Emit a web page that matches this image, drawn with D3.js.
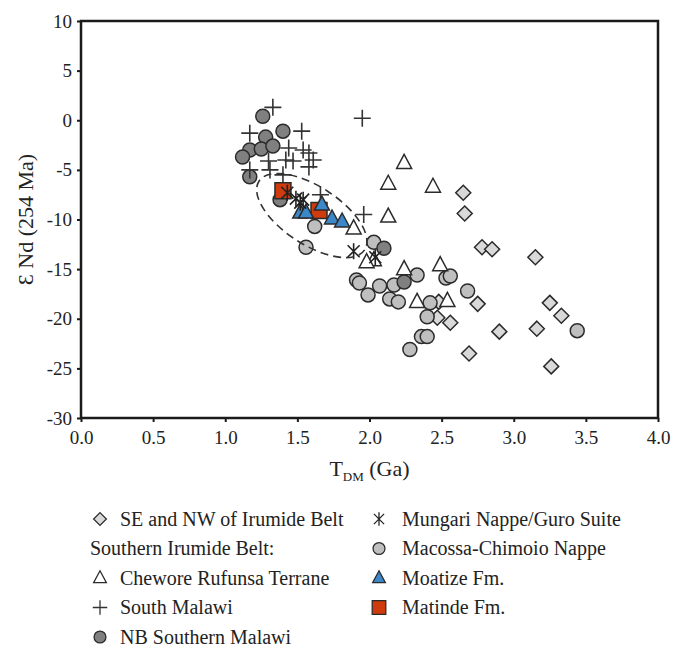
<!DOCTYPE html>
<html>
<head>
<meta charset="utf-8">
<script src="https://cdn.jsdelivr.net/npm/d3@7"></script>
<style>
body { margin: 0; background: #fff; }
svg text { font-family: "Liberation Serif", "DejaVu Serif", serif; fill: #222; }
</style>
</head>
<body>
<svg id="chart" width="674" height="648"></svg>
<script>
// values, [T_DM (Ga), eps Nd]
var seNwIrumide = [[2.65,-7.3],[2.66,-9.4],[2.78,-12.8],[2.85,-13.0],[3.15,-13.8],[2.75,-18.5],[3.25,-18.4],
    [3.33,-19.7],[2.90,-21.3],[3.16,-21.0],[2.69,-23.5],[3.26,-24.8],[2.48,-18.3],[2.47,-19.9],[2.56,-20.4]];
var macossa = [[1.91,-16.1],[1.93,-16.4],[1.99,-17.6],[2.07,-16.7],[2.17,-16.6],[2.14,-18.0],[2.20,-18.3],
    [2.33,-15.6],[2.42,-18.4],[2.40,-19.8],[2.53,-15.9],[2.56,-15.7],[2.68,-17.2],[2.36,-21.8],[2.40,-21.8],
    [2.28,-23.1],[1.62,-10.7],[1.56,-12.8],[2.03,-12.3],[3.44,-21.2]];
var nbMalawi = [[1.26,0.4],[1.40,-1.1],[1.28,-1.7],[1.17,-3.0],[1.25,-2.9],[1.33,-2.6],[1.12,-3.7],
    [1.17,-5.7],[1.38,-8.0],[2.10,-12.9],[2.24,-16.3]];
var chewore = [[2.24,-4.3],[2.13,-6.4],[2.44,-6.7],[2.13,-9.7],[1.89,-10.9],[2.03,-14.1],[1.98,-14.3],
    [2.24,-15.0],[2.49,-14.6],[2.33,-18.3],[2.54,-18.2]];
var southMalawi = [[1.33,1.3],[1.17,-1.3],[1.53,-1.1],[1.95,0.2],[1.44,-2.8],[1.54,-3.0],[1.58,-3.3],
    [1.61,-4.0],[1.58,-4.7],[1.30,-4.1],[1.42,-4.0],[1.47,-4.1],[1.31,-5.0],[1.17,-5.0],[1.40,-5.5],
    [1.96,-9.5],[1.66,-7.5]];
var matinde = [[1.40,-7.1],[1.65,-9.1]];
var moatize = [[1.52,-9.3],[1.56,-9.3],[1.67,-8.5],[1.74,-9.9],[1.81,-10.2]];
var mungari = [[1.43,-7.3],[1.49,-7.9],[1.54,-8.0],[1.52,-8.3],[1.89,-13.2],[2.04,-13.8]];

var xTicks = [0, 0.5, 1, 1.5, 2, 2.5, 3, 3.5, 4];
var yTicks = [10, 5, 0, -5, -10, -15, -20, -25, -30];

// dashed field around the Moatize/Matinde samples
var fieldCentre = [1.60, -9.6];

var serif = '"Liberation Serif", "DejaVu Serif", serif';
var svg = d3.select("#chart");
var plotL = 81, plotR = 658, plotT = 21, plotB = 418;

var x = d3.scaleLinear().domain([0, 4]).range([plotL, plotR]);
var y = d3.scaleLinear().domain([-30, 10]).range([plotB, plotT]);

// marker shapes, centred on 0,0
function shape(kind) {
    if (kind == "circle") return "M7,0A7,7 0 1,1 -7,0A7,7 0 1,1 7,0Z";
    if (kind == "diamond") return "M0,-7.5L7.5,0L0,7.5L-7.5,0Z";
    if (kind == "triangle") return "M0,-8.5L7.5,5.5L-7.5,5.5Z";
    if (kind == "square") return "M-8,-8H8V8H-8Z";
    if (kind == "plus") return "M-8.5,0H8.5M0,-8.5V8.5";
    if (kind == "star") return "M-6,-6L6,6M-6,6L6,-6M0,-8V8";
}

var series = [
    { name: "SE and NW of Irumide Belt", data: seNwIrumide, kind: "diamond", fill: "#d9d9d9", stroke: "#2b2b2b" },
    { name: "Macossa-Chimoio Nappe", data: macossa, kind: "circle", fill: "#bfbfbf", stroke: "#2b2b2b" },
    { name: "NB Southern Malawi", data: nbMalawi, kind: "circle", fill: "#808080", stroke: "#2b2b2b" },
    { name: "Chewore Rufunsa Terrane", data: chewore, kind: "triangle", fill: "#fff", stroke: "#2b2b2b" },
    { name: "South Malawi", data: southMalawi, kind: "plus", fill: "none", stroke: "#333" },
    { name: "Matinde Fm.", data: matinde, kind: "square", fill: "#cf3b0c", stroke: "#2b2b2b" },
    { name: "Moatize Fm.", data: moatize, kind: "triangle", fill: "#3c87c8", stroke: "#2b2b2b" },
    { name: "Mungari Nappe/Guro Suite", data: mungari, kind: "star", fill: "none", stroke: "#222" }
];

// axes frame
svg.append("rect")
    .attr("x", plotL).attr("y", plotT)
    .attr("width", plotR - plotL).attr("height", plotB - plotT)
    .attr("fill", "none").attr("stroke", "#1a1a1a").attr("stroke-width", 2.5);

var xAxis = svg.append("g")
    .attr("transform", "translate(0," + plotB + ")")
    .call(d3.axisBottom(x).tickValues(xTicks).tickSize(4).tickPadding(8)
        .tickFormat(function(d) { return d.toFixed(1); }));
var yAxis = svg.append("g")
    .attr("transform", "translate(" + plotL + ",0)")
    .call(d3.axisLeft(y).tickValues(yTicks).tickSize(4).tickPadding(5)
        .tickFormat(function(d) { return String(d); }));

[xAxis, yAxis].forEach(function(a) {
    a.attr("font-family", serif).attr("font-size", 19);
    a.select(".domain").remove();
    a.selectAll(".tick line").attr("stroke", "#1a1a1a").attr("stroke-width", 2);
    a.selectAll(".tick text")
        .style("font-family", serif)
        .style("font-size", "19px")
        .attr("fill", "#222");
});
xAxis.selectAll(".tick text").attr("dy", "0.75em");

// axis titles
svg.append("text")
    .attr("transform", "translate(33," + ((plotT + plotB) / 2) + ") rotate(-90)")
    .attr("text-anchor", "middle")
    .style("font-size", "22px")
    .text("Ɛ Nd (254 Ma)");

var xt = svg.append("text")
    .attr("x", (plotL + plotR) / 2).attr("y", 476)
    .attr("text-anchor", "middle")
    .style("font-size", "22px");
xt.append("tspan").text("T");
xt.append("tspan").attr("dy", 5).style("font-size", "13px").text("DM");
xt.append("tspan").attr("dy", -5).text(" (Ga)");

// points
series.forEach(function(s) {
    svg.append("g").selectAll("path")
        .data(s.data)
        .enter().append("path")
        .attr("transform", function(d) { return "translate(" + x(d[0]) + "," + y(d[1]) + ")"; })
        .attr("d", shape(s.kind))
        .attr("fill", s.fill)
        .attr("stroke", s.stroke)
        .attr("stroke-width", s.kind == "plus" || s.kind == "star" ? 1.6 : 1.5);
});

svg.append("ellipse")
    .attr("transform", "translate(" + x(fieldCentre[0]) + "," + y(fieldCentre[1]) + ") rotate(33)")
    .attr("rx", 63).attr("ry", 29)
    .attr("fill", "none")
    .attr("stroke", "#333").attr("stroke-width", 1.6)
    .attr("stroke-dasharray", "8,5");

// legend
var legendLeft = [
    { label: "SE and NW of Irumide Belt", kind: "diamond", s: series[0] },
    { label: "Southern Irumide Belt:", kind: null },
    { label: "Chewore Rufunsa Terrane", kind: "triangle", s: series[3] },
    { label: "South Malawi", kind: "plus", s: series[4] },
    { label: "NB Southern Malawi", kind: "circle", s: series[2] }
];
var legendRight = [
    { label: "Mungari Nappe/Guro Suite", kind: "star", s: series[7] },
    { label: "Macossa-Chimoio Nappe", kind: "circle", s: series[1] },
    { label: "Moatize Fm.", kind: "triangle", s: series[6] },
    { label: "Matinde Fm.", kind: "square", s: series[5] }
];

function drawLegend(items, mx, tx) {
    items.forEach(function(it, i) {
        var ly = 519 + i * 29.5;
        var g = svg.append("g").attr("transform", "translate(0," + ly + ")");
        if (it.kind) {
            g.append("path")
                .attr("transform", "translate(" + mx + ",0) scale(0.85)")
                .attr("d", shape(it.kind))
                .attr("fill", it.s.fill)
                .attr("stroke", it.s.stroke)
                .attr("stroke-width", 1.5);
        }
        g.append("text")
            .attr("x", it.kind ? tx : mx - 10)
            .attr("y", 0).attr("dy", "0.33em")
            .style("font-size", "20px")
            .text(it.label);
    });
}
drawLegend(legendLeft, 100, 120);
drawLegend(legendRight, 379, 402);
</script>
</body>
</html>
